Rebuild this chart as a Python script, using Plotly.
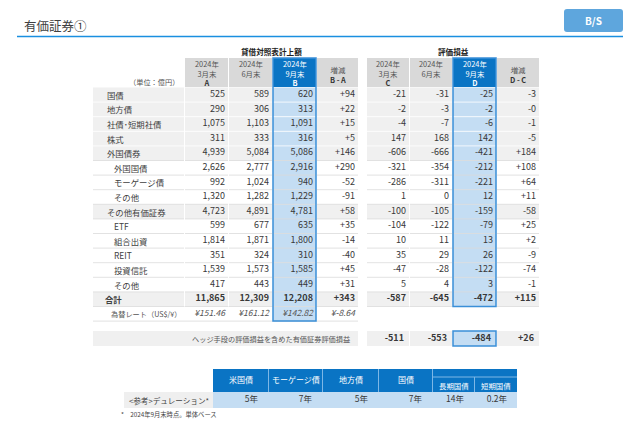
import plotly.graph_objects as go

# ---- data (unit: 100 million yen) ----
row_labels = ["国債", "地方債", "社債･短期社債", "株式", "外国債券", "外国国債", "モーゲージ債", "その他",
              "その他有価証券", "ETF", "組合出資", "REIT", "投資信託", "その他", "合計"]
is_sub = [False, False, False, False, False, True, True, True,
          False, True, True, True, True, True, False]

bs_mar = [525, 290, 1075, 311, 4939, 2626, 992, 1320, 4723, 599, 1814, 351, 1539, 417, 11865]
bs_jun = [589, 306, 1103, 333, 5084, 2777, 1024, 1282, 4891, 677, 1871, 324, 1573, 443, 12309]
bs_sep = [620, 313, 1091, 316, 5086, 2916, 940, 1229, 4781, 635, 1800, 310, 1585, 449, 12208]
bs_diff = ["+94", "+22", "+15", "+5", "+146", "+290", "-52", "-91", "+58", "+35", "-14", "-40", "+45", "+31", "+343"]

pl_mar = [-21, -2, -4, 147, -606, -321, -286, 1, -100, -104, 10, 35, -47, 5, -587]
pl_jun = [-31, -3, -7, 168, -666, -354, -311, 0, -105, -122, 11, 29, -28, 4, -645]
pl_sep = [-25, -2, -6, 142, -421, -212, -221, 12, -159, -79, 13, 26, -122, 3, -472]
pl_diff = ["-3", "-0", "-1", "-5", "+184", "+108", "+64", "+11", "-58", "+25", "+2", "-9", "-74", "-1", "+115"]

fx_label = "為替レート（US$/¥）"
fx_rates = ["¥151.46", "¥161.12", "¥142.82", "¥-8.64"]

hedge_label = "ヘッジ手段の評価損益を含めた有価証券評価損益"
hedge_vals = ["-511", "-553", "-484", "+26"]

bs_heads = [("2024年", "3月末", "A"), ("2024年", "6月末", ""), ("2024年", "9月末", "B"), ("増減", "B - A")]
pl_heads = [("2024年", "3月末", "C"), ("2024年", "6月末", ""), ("2024年", "9月末", "D"), ("増減", "D - C")]

dur_cats = ["米国債", "モーゲージ債", "地方債", "国債", "長期国債", "短期国債"]
dur_vals = ["5年", "7年", "5年", "7年", "14年", "0.2年"]

# ---- styles / geometry ----
FONT = "Noto Sans CJK JP"
TXT = "#383838"
GRAY_H = "#d9d9d9"
GRAY_R = "#f0f0f0"
LINE_G = "#dadada"
BLUE = "#0a74c4"
LBLUE = "#c4ddf3"
BORDER = "#3a8fd8"
OFF = 8  # page body margin of the browser

LBL = (93, 184)
L_COLS = [(185, 228), (229, 272), (273, 316), (317, 358)]
R_COLS = [(367, 409), (410, 452), (453, 496), (497, 539)]
HEAD_TOP, HEAD_BOT, PITCH = 58, 87.5, 14.6
PAD = 3


def row_top(i):
    return HEAD_BOT + i * PITCH


def row_mid(i):
    return row_top(i) + PITCH / 2


def fmt(v):
    return f"{v:,}"


shapes = []
annotations = []


def rect(x0, x1, y0, y1, fill, line=None, lw=0):
    shapes.append(dict(type="rect", xref="x", yref="y", x0=x0, x1=x1, y0=y0, y1=y1,
                       fillcolor=fill, line=dict(color=line or fill, width=lw), layer="below"))


def hline(x0, x1, y, color, w=1):
    shapes.append(dict(type="line", xref="x", yref="y", x0=x0, x1=x1, y0=y, y1=y,
                       line=dict(color=color, width=w), layer="below"))


def text(x, y, s, size=8, color=TXT, anchor="center", bold=False):
    annotations.append(dict(x=x, y=y, xref="x", yref="y", text=f"<b>{s}</b>" if bold else s,
                            showarrow=False, xanchor=anchor, yanchor="middle",
                            font=dict(family=FONT, size=size, color=color)))


fig = go.Figure()

# title block
text(22, 25, "有価証券①", size=12.5, color="#404040", anchor="left")
shapes.append(dict(type="line", xref="x", yref="y", x0=17, x1=623, y0=36.5, y1=36.5,
                   line=dict(color="#1a8fe0", width=1.5)))
r, bx0, bx1, by0, by1 = 3, 564, 623, 9, 32
shapes.append(dict(type="path", xref="x", yref="y", fillcolor="#5ea6dd", line=dict(width=0),
                   path=f"M{bx0 + r},{by0} L{bx1 - r},{by0} Q{bx1},{by0} {bx1},{by0 + r} "
                        f"L{bx1},{by1 - r} Q{bx1},{by1} {bx1 - r},{by1} L{bx0 + r},{by1} "
                        f"Q{bx0},{by1} {bx0},{by1 - r} L{bx0},{by0 + r} Q{bx0},{by0} {bx0 + r},{by0} Z"))
text((bx0 + bx1) / 2, 20.5, "B/S", size=10, color="white", bold=True)

# group titles
text((L_COLS[0][0] + L_COLS[-1][1]) / 2, 51, "貸借対照表計上額", size=7.6, color="#222", bold=True)
text((R_COLS[0][0] + R_COLS[-1][1]) / 2, 51, "評価損益", size=7.6, color="#222", bold=True)
text(LBL[1] - 3, 82, "（単位：億円）", size=7.2, color="#555", anchor="right")

# headers (one multi-line text per cell)
for cols, heads in ((L_COLS, bs_heads), (R_COLS, pl_heads)):
    for k, ((x0, x1), h) in enumerate(zip(cols, heads)):
        hi = k == 2
        rect(x0, x1, HEAD_TOP, HEAD_BOT - 0.5, BLUE if hi else GRAY_H)
        c = "white" if hi else "#555"
        key_c = "white" if hi else "#333"
        cx = (x0 + x1) / 2
        if len(h) == 3:
            if h[2]:
                s, cy = f"{h[0]}<br>{h[1]}<br><span style='color:{key_c}'><b>{h[2]}</b></span>", 72.8
            else:
                s, cy = f"{h[0]}<br>{h[1]}", 68.2
        else:
            s, cy = f"{h[0]}<br><span style='color:{key_c}'><b>{h[1]}</b></span>", 74
        text(cx, cy, s, size=7.4, color=c)

# body backgrounds
n = len(row_labels)
for i in range(n):
    y0, y1 = row_top(i), row_top(i + 1)
    bg = "white" if is_sub[i] else GRAY_R
    rect(LBL[0], LBL[1], y0, y1, bg)
    for k, (x0, x1) in enumerate(L_COLS + R_COLS):
        rect(x0, x1, y0, y1, LBLUE if k in (2, 6) else bg)
# fx row (left side only)
rect(L_COLS[2][0], L_COLS[2][1], row_top(n), row_top(n + 1), LBLUE)
# row separators
for i in range(1, n + 2):
    both_gray = i < n and not is_sub[i - 1] and not is_sub[i]
    c = "white" if both_gray else LINE_G
    hline(LBL[0], L_COLS[-1][1], row_top(i), c, 0.8)
    if i <= n:
        hline(R_COLS[0][0], R_COLS[-1][1], row_top(i), c, 0.8)
# column separators inside gray rows
for x in [LBL[1] + 0.5] + [c[1] + 0.5 for c in L_COLS[:-1] + R_COLS[:-1]]:
    shapes.append(dict(type="line", xref="x", yref="y", x0=x, x1=x, y0=HEAD_BOT, y1=row_top(n),
                       line=dict(color="white", width=1), layer="below"))

# highlighted column borders
shapes.append(dict(type="rect", xref="x", yref="y", x0=L_COLS[2][0], x1=L_COLS[2][1],
                   y0=HEAD_TOP, y1=row_top(n + 1), line=dict(color=BORDER, width=1.5)))
shapes.append(dict(type="rect", xref="x", yref="y", x0=R_COLS[2][0], x1=R_COLS[2][1],
                   y0=HEAD_TOP, y1=row_top(n), line=dict(color=BORDER, width=1.5)))

# row labels
ys = [row_mid(i) for i in range(n)]
lbl_x = [LBL[0] + (19 if s else 12) for s in is_sub]
lbl_x[-1] = LBL[0] + 10
lbl_txt = [f"<b>{t}</b>" if t == "合計" else t for t in row_labels]
for xx, yy, tt in zip(lbl_x, ys, lbl_txt):
    annotations.append(dict(x=xx, y=yy, xref="x", yref="y", text=tt, showarrow=False,
                            xanchor="left", yanchor="middle",
                            font=dict(family=FONT, size=8.4, color="#404040")))


# value columns
def val_trace(col, vals, bold_last=True):
    txt = [str(v) for v in vals]
    if bold_last:
        txt[-1] = f"<b>{txt[-1]}</b>"
    fig.add_trace(go.Scatter(x=[col[1] - PAD] * len(txt), y=ys[:len(txt)], text=txt, mode="text",
                             textposition="middle left", hoverinfo="skip", showlegend=False,
                             textfont=dict(family=FONT, size=9, color=TXT)))


for col, vals in zip(L_COLS, [list(map(fmt, bs_mar)), list(map(fmt, bs_jun)), list(map(fmt, bs_sep)), bs_diff]):
    val_trace(col, vals)
for col, vals in zip(R_COLS, [list(map(fmt, pl_mar)), list(map(fmt, pl_jun)), list(map(fmt, pl_sep)), pl_diff]):
    val_trace(col, vals)

# fx row
fy = row_mid(n)
annotations.append(dict(x=LBL[0] + 16, y=fy, xref="x", yref="y", text=fx_label, showarrow=False,
                        xanchor="left", yanchor="middle", font=dict(family=FONT, size=7.2, color="#555")))
fig.add_trace(go.Scatter(x=[c[1] - PAD for c in L_COLS], y=[fy] * 4, text=[f"<i>{v}</i>" for v in fx_rates],
                         mode="text", textposition="middle left", hoverinfo="skip", showlegend=False,
                         textfont=dict(family=FONT, size=8.5, color="#555")))

# hedge row
H0, H1 = 331, 346
rect(LBL[0], L_COLS[-1][1], H0, H1, GRAY_R)
for k, (x0, x1) in enumerate(R_COLS):
    rect(x0, x1, H0, H1, LBLUE if k == 2 else GRAY_R)
shapes.append(dict(type="rect", xref="x", yref="y", x0=R_COLS[2][0], x1=R_COLS[2][1], y0=H0, y1=H1,
                   line=dict(color=BORDER, width=1.5)))
text(L_COLS[-1][1] - 6, (H0 + H1) / 2, hedge_label, size=7.2, color="#555", anchor="right")
fig.add_trace(go.Scatter(x=[c[1] - PAD - 2 for c in R_COLS], y=[(H0 + H1) / 2] * 4,
                         text=[f"<b>{v}</b>" for v in hedge_vals], mode="text", textposition="middle left",
                         hoverinfo="skip", showlegend=False, textfont=dict(family=FONT, size=9, color=TXT)))

# duration table
D_COLS = [(213, 268), (269, 322), (323, 378), (379, 432), (433, 474), (475, 517)]
DT, DM, DB, DE = 369, 377, 392, 408
rect(D_COLS[0][0], D_COLS[-1][1], DT, DB, BLUE)
rect(D_COLS[0][0], D_COLS[-1][1], DB, DE, LBLUE)
for x0, x1 in D_COLS[1:]:
    shapes.append(dict(type="line", xref="x", yref="y", x0=x0 - 0.5, x1=x0 - 0.5,
                       y0=DT if x0 <= 433 else DM, y1=DB, line=dict(color="#7db7e6", width=1)))
shapes.append(dict(type="line", xref="x", yref="y", x0=D_COLS[4][0], x1=D_COLS[5][1], y0=DM, y1=DM,
                   line=dict(color="#7db7e6", width=1)))
for k, ((x0, x1), cat, v) in enumerate(zip(D_COLS, dur_cats, dur_vals)):
    cy = (DM + DB) / 2 + 1 if k >= 4 else (DT + DB) / 2 - 1
    text((x0 + x1) / 2, cy, cat, size=8 if k < 4 else 7.4, color="white")
fig.add_trace(go.Scatter(x=[c[1] - 10 for c in D_COLS], y=[(DB + DE) / 2] * len(dur_vals), text=dur_vals,
                         mode="text", textposition="middle left", hoverinfo="skip", showlegend=False,
                         textfont=dict(family=FONT, size=8.5, color=TXT)))
rect(124, 213, DB, DE, "#efefef")
text(127, (DB + DE) / 2, "<参考>デュレーション*", size=7.6, color="#444", anchor="left")
text(119, 414, "*　2024年9月末時点。単体ベース", size=6.3, color="#444", anchor="left")

# the page body adds an 8px margin; map axis units straight to window pixels
fig.update_layout(
    width=640 - OFF, height=443 - OFF,
    margin=dict(l=0, r=0, t=0, b=0),
    paper_bgcolor="white", plot_bgcolor="white",
    xaxis=dict(range=[OFF, 640], visible=False, fixedrange=True),
    yaxis=dict(range=[443, OFF], visible=False, fixedrange=True),
    shapes=shapes, annotations=annotations,
    showlegend=False,
)
fig.write_html("out.html")
